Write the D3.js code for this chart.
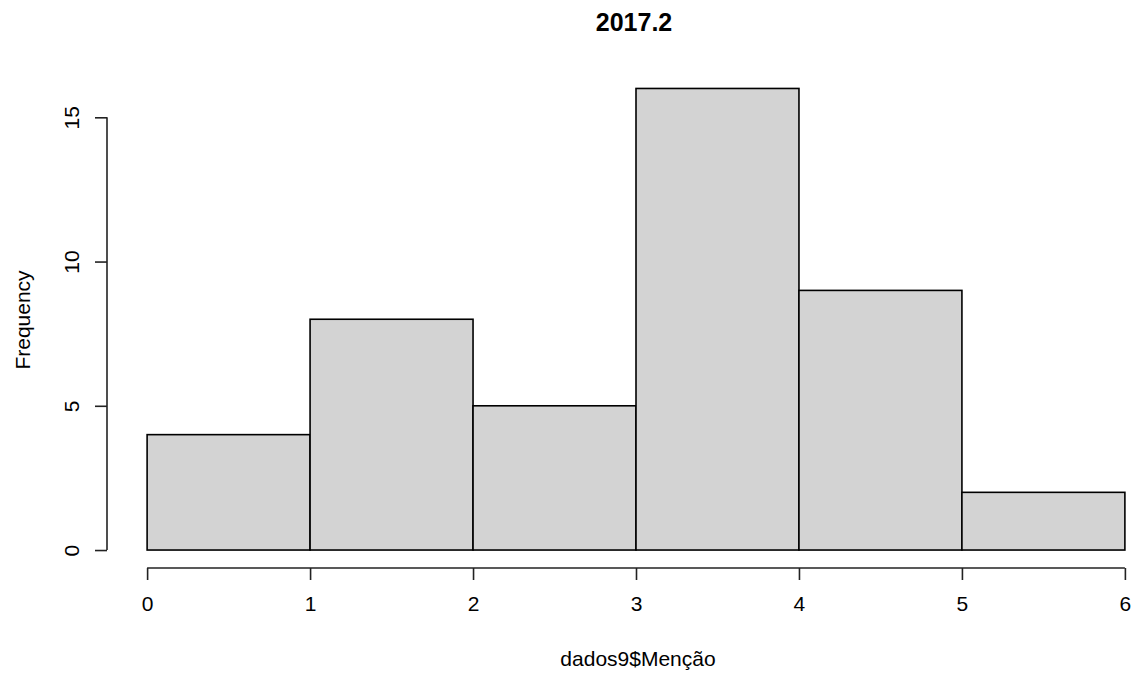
<!DOCTYPE html>
<html>
<head>
<meta charset="utf-8">
<script src="https://cdn.jsdelivr.net/npm/d3@7"></script>
<style>
  body { margin: 0; background: #fff; }
  text { font-family: "Liberation Sans", Arial, sans-serif; fill: #000; }
</style>
</head>
<body>
<div id="chart"></div>
<script>
// histogram bins (edges) and counts
const binEdges = [0, 1, 2, 3, 4, 5, 6]
const counts = [4, 8, 5, 16, 9, 2]
const xTicks = [0, 1, 2, 3, 4, 5, 6]
const yTicks = [0, 5, 10, 15]
const title = "2017.2"
const xLabel = "dados9$Menção"
const yLabel = "Frequency"

const width = 1137, height = 677

const bins = counts.map((c, i) => ({ x0: binEdges[i], x1: binEdges[i + 1], count: c }))

// R style: data range extended by 4% on each side
let x = d3.scaleLinear().domain([-0.24, 6.24]).range([108, 1164])
let y = d3.scaleLinear().domain([-0.64, 16.64]).range([568.5, 70])

const svg = d3.select("#chart").append("svg")
  .attr("width", width)
  .attr("height", height)

// bars
svg.selectAll("rect.bar")
  .data(bins)
  .enter().append("rect")
  .attr("class", "bar")
  .attr("x", d => x(d.x0))
  .attr("y", d => y(d.count))
  .attr("width", d => x(d.x1) - x(d.x0))
  .attr("height", d => y(0) - y(d.count))
  .attr("fill", "#d3d3d3")
  .attr("stroke", "#000")
  .attr("stroke-width", 1.6)

// x axis
const xAxis = d3.axisBottom(x).tickValues(xTicks).tickSize(12).tickSizeOuter(0)
  .tickPadding(16).tickFormat(d3.format("d"))
const gx = svg.append("g")
  .attr("transform", "translate(0,568)")
  .call(xAxis)
gx.select(".domain")
  .attr("d", `M${x(xTicks[0])},0H${x(xTicks[xTicks.length - 1])}`)
  .attr("stroke", "#222").attr("stroke-width", 1.6)
gx.selectAll(".tick line").attr("stroke", "#222").attr("stroke-width", 1.6)
gx.selectAll(".tick text")
  .style("font-family", '"Liberation Sans", Arial, sans-serif')
  .style("font-size", "21px")
  .attr("fill", "#000")

// y axis
const yAxis = d3.axisLeft(y).tickValues(yTicks).tickSize(12).tickSizeOuter(0).tickFormat(d3.format("d"))
const gy = svg.append("g")
  .attr("transform", "translate(107,0)")
  .call(yAxis)
gy.select(".domain")
  .attr("d", `M0,${y(yTicks[0])}V${y(yTicks[yTicks.length - 1])}`)
  .attr("stroke", "#222").attr("stroke-width", 1.6)
gy.selectAll(".tick line").attr("stroke", "#222").attr("stroke-width", 1.6)
gy.selectAll(".tick text")
  .attr("x", null).attr("dy", null)
  .attr("text-anchor", "middle")
  .attr("transform", "translate(-28,0) rotate(-90)")
  .style("font-family", '"Liberation Sans", Arial, sans-serif')
  .style("font-size", "21px")
  .attr("fill", "#000")

// title
svg.append("text")
  .attr("x", 634)
  .attr("y", 31)
  .attr("text-anchor", "middle")
  .style("font-size", "25px")
  .style("font-weight", "bold")
  .text(title)

// axis labels
svg.append("text")
  .attr("x", 638)
  .attr("y", 666)
  .attr("text-anchor", "middle")
  .style("font-size", "21px")
  .text(xLabel)

svg.append("text")
  .attr("transform", "translate(30,320) rotate(-90)")
  .attr("text-anchor", "middle")
  .style("font-size", "21px")
  .text(yLabel)
</script>
</body>
</html>
